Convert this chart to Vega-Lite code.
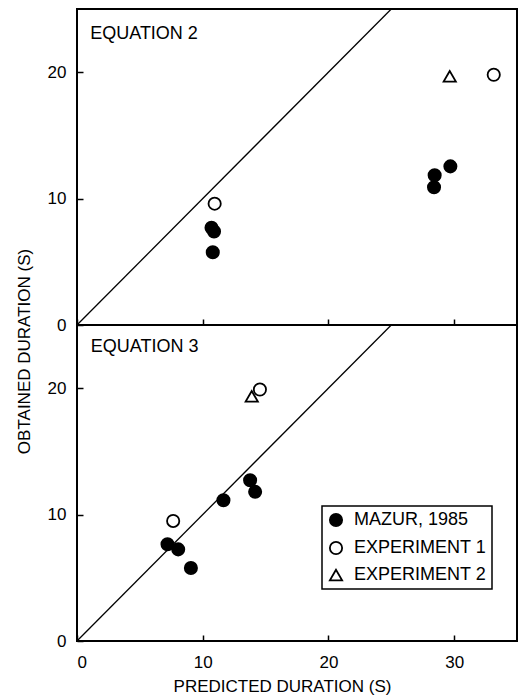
{
  "$schema": "https://vega.github.io/schema/vega-lite/v6.json",
  "padding": {"left": 16, "top": 8, "right": 4, "bottom": 2},
  "background": "white",
  "bounds": "flush",
  "config": {
    "font": "Liberation Sans",
    "view": {"stroke": "black", "strokeWidth": 2},
    "axis": {"grid": false, "domain": false, "tickColor": "black", "tickWidth": 1.5, "tickSize": -6, "labelColor": "black", "labelFontSize": 17, "titleColor": "black", "titleFontSize": 17, "titleFontWeight": "normal"},
    "legend": {"strokeColor": "black", "strokeWidth": 1.5, "labelFontSize": 18, "labelFont": "Liberation Sans"}
  },
  "title": {"text": "OBTAINED DURATION (S)", "orient": "left", "anchor": "middle", "fontSize": 17, "fontWeight": "normal", "offset": 12, "color": "black", "font": "Liberation Sans"},
  "datasets": {
    "points": [
      {"panel": "EQUATION 2", "group": "MAZUR, 1985", "x": 10.7, "y": 7.7},
      {"panel": "EQUATION 2", "group": "MAZUR, 1985", "x": 10.9, "y": 7.4},
      {"panel": "EQUATION 2", "group": "MAZUR, 1985", "x": 10.8, "y": 5.75},
      {"panel": "EQUATION 2", "group": "MAZUR, 1985", "x": 28.45, "y": 11.85},
      {"panel": "EQUATION 2", "group": "MAZUR, 1985", "x": 28.4, "y": 10.9},
      {"panel": "EQUATION 2", "group": "MAZUR, 1985", "x": 29.7, "y": 12.55},
      {"panel": "EQUATION 2", "group": "EXPERIMENT 1", "x": 10.95, "y": 9.6},
      {"panel": "EQUATION 2", "group": "EXPERIMENT 1", "x": 33.15, "y": 19.8},
      {"panel": "EQUATION 2", "group": "EXPERIMENT 2", "x": 29.65, "y": 19.68},
      {"panel": "EQUATION 3", "group": "MAZUR, 1985", "x": 7.2, "y": 7.65},
      {"panel": "EQUATION 3", "group": "MAZUR, 1985", "x": 8.05, "y": 7.25},
      {"panel": "EQUATION 3", "group": "MAZUR, 1985", "x": 9.06, "y": 5.78},
      {"panel": "EQUATION 3", "group": "MAZUR, 1985", "x": 11.65, "y": 11.14},
      {"panel": "EQUATION 3", "group": "MAZUR, 1985", "x": 13.77, "y": 12.72},
      {"panel": "EQUATION 3", "group": "MAZUR, 1985", "x": 14.17, "y": 11.8},
      {"panel": "EQUATION 3", "group": "EXPERIMENT 1", "x": 7.65, "y": 9.5},
      {"panel": "EQUATION 3", "group": "EXPERIMENT 1", "x": 14.55, "y": 19.9},
      {"panel": "EQUATION 3", "group": "EXPERIMENT 2", "x": 13.9, "y": 19.36}
    ],
    "diag": [{"x": 0, "y": 0}, {"x": 25, "y": 25}],
    "labels": [
      {"panel": "EQUATION 2", "x": 1.05, "y": 22.65},
      {"panel": "EQUATION 3", "x": 1.1, "y": 22.85}
    ]
  },
  "spacing": 0,
  "resolve": {"legend": {"shape": "independent", "fill": "independent", "stroke": "independent"}},
  "vconcat": [
    {
      "width": 440,
      "height": 316,
      "layer": [
        {
          "data": {"name": "diag"},
          "mark": {"type": "line", "color": "black", "strokeWidth": 1.3, "clip": true},
          "encoding": {
            "x": {"field": "x", "type": "quantitative", "scale": {"domain": [0, 35], "nice": false}, "axis": {"values": [0, 10, 20, 30], "labels": false, "title": null}},
            "y": {"field": "y", "type": "quantitative", "scale": {"domain": [0, 25], "nice": false}, "axis": {"values": [0, 10, 20], "labelPadding": 17, "title": null}}
          }
        },
        {
          "data": {"name": "points"},
          "transform": [{"filter": "datum.panel === 'EQUATION 2'"}],
          "mark": {"type": "point", "filled": true, "strokeWidth": 1.8, "size": 150, "opacity": 1},
          "encoding": {
            "x": {"field": "x", "type": "quantitative"},
            "y": {"field": "y", "type": "quantitative"},
            "shape": {"field": "group", "type": "nominal", "scale": {"domain": ["MAZUR, 1985", "EXPERIMENT 1", "EXPERIMENT 2"], "range": ["circle", "circle", "triangle-up"]}, "legend": null},
            "fill": {"field": "group", "type": "nominal", "scale": {"domain": ["MAZUR, 1985", "EXPERIMENT 1", "EXPERIMENT 2"], "range": ["black", "transparent", "transparent"]}, "legend": null},
            "stroke": {"field": "group", "type": "nominal", "scale": {"domain": ["MAZUR, 1985", "EXPERIMENT 1", "EXPERIMENT 2"], "range": ["black", "black", "black"]}, "legend": null}
          }
        },
        {
          "data": {"name": "labels"},
          "transform": [{"filter": "datum.panel === 'EQUATION 2'"}],
          "mark": {"type": "text", "align": "left", "baseline": "alphabetic", "fontSize": 18, "color": "black"},
          "encoding": {
            "x": {"field": "x", "type": "quantitative"},
            "y": {"field": "y", "type": "quantitative"},
            "text": {"field": "panel"}
          }
        }
      ]
    },
    {
      "width": 440,
      "height": 316,
      "layer": [
        {
          "data": {"name": "diag"},
          "mark": {"type": "line", "color": "black", "strokeWidth": 1.3, "clip": true},
          "encoding": {
            "x": {"field": "x", "type": "quantitative", "scale": {"domain": [0, 35], "nice": false}, "axis": {"values": [0, 10, 20, 30], "labelPadding": 19, "title": "PREDICTED DURATION (S)", "titlePadding": 8, "titleX": 205}},
            "y": {"field": "y", "type": "quantitative", "scale": {"domain": [0, 25], "nice": false}, "axis": {"values": [0, 10, 20], "labelPadding": 17, "title": null}}
          }
        },
        {
          "data": {"name": "points"},
          "transform": [{"filter": "datum.panel === 'EQUATION 3'"}],
          "mark": {"type": "point", "filled": true, "strokeWidth": 1.8, "size": 150, "opacity": 1},
          "encoding": {
            "x": {"field": "x", "type": "quantitative"},
            "y": {"field": "y", "type": "quantitative"},
            "shape": {"field": "group", "type": "nominal", "scale": {"domain": ["MAZUR, 1985", "EXPERIMENT 1", "EXPERIMENT 2"], "range": ["circle", "circle", "triangle-up"]},
              "legend": {"orient": "none", "legendX": 245, "legendY": 181, "title": null, "labelFontSize": 18, "labelColor": "black", "symbolSize": 150, "symbolStrokeWidth": 1.8, "padding": 5, "rowPadding": 8, "labelOffset": 9}},
            "fill": {"field": "group", "type": "nominal", "scale": {"domain": ["MAZUR, 1985", "EXPERIMENT 1", "EXPERIMENT 2"], "range": ["black", "transparent", "transparent"]},
              "legend": {"orient": "none", "legendX": 245, "legendY": 181, "title": null, "labelFontSize": 18, "labelColor": "black", "symbolSize": 150, "symbolStrokeWidth": 1.8, "padding": 5, "rowPadding": 8, "labelOffset": 9}},
            "stroke": {"field": "group", "type": "nominal", "scale": {"domain": ["MAZUR, 1985", "EXPERIMENT 1", "EXPERIMENT 2"], "range": ["black", "black", "black"]},
              "legend": {"orient": "none", "legendX": 245, "legendY": 181, "title": null, "labelFontSize": 18, "labelColor": "black", "symbolSize": 150, "symbolStrokeWidth": 1.8, "padding": 5, "rowPadding": 8, "labelOffset": 9}}
          }
        },
        {
          "data": {"name": "labels"},
          "transform": [{"filter": "datum.panel === 'EQUATION 3'"}],
          "mark": {"type": "text", "align": "left", "baseline": "alphabetic", "fontSize": 18, "color": "black"},
          "encoding": {
            "x": {"field": "x", "type": "quantitative"},
            "y": {"field": "y", "type": "quantitative"},
            "text": {"field": "panel"}
          }
        }
      ]
    }
  ]
}
